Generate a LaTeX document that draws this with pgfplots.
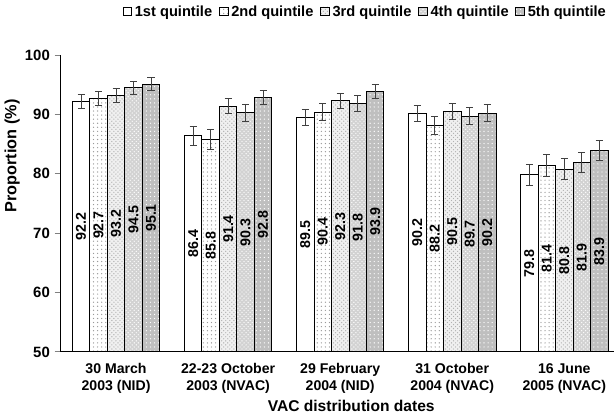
\documentclass[border=0pt]{standalone}
\usepackage{fontspec}
\setmainfont{Liberation Sans Bold}
\usepackage{pgfplots}
\pgfplotsset{compat=1.18}
\usepackage{pgfplotstable}
\usetikzlibrary{patterns}

\pgfplotstableread{
x y e
0 92.2 1.19
1 86.4 1.55
2 89.5 1.36
3 90.2 1.33
4 79.8 1.78
}\qone
\pgfplotstableread{
x y e
0 92.7 1.20
1 85.8 1.65
2 90.4 1.36
3 88.2 1.50
4 81.4 1.78
}\qtwo
\pgfplotstableread{
x y e
0 93.2 1.16
1 91.4 1.27
2 92.3 1.24
3 90.5 1.33
4 80.8 1.78
}\qthree
\pgfplotstableread{
x y e
0 94.5 1.10
1 90.3 1.45
2 91.8 1.36
3 89.7 1.44
4 81.9 1.73
}\qfour
\pgfplotstableread{
x y e
0 95.1 1.10
1 92.8 1.20
2 93.9 1.16
3 90.2 1.39
4 83.9 1.73
}\qfive

\begin{document}
\begin{tikzpicture}
\begin{axis}[
  x=82.65pt, y=4.38pt,
  xmin=-0.5, xmax=4.44, ymin=50, ymax=100,
  axis x line*=bottom, axis y line*=left,
  axis line style={line width=0.6pt},
  ybar=0pt, bar width=0.156,
  xtick={0,1,2,3,4},
  xticklabels={{30 March\\2003 (NID)},{22-23 October\\2003 (NVAC)},{29 February\\2004 (NID)},{31 October\\2004 (NVAC)},{16 June\\2005 (NVAC)}},
  xtick style={draw=none},
  ytick={50,60,70,80,90,100},
  tick align=outside,
  major tick length=4pt,
  ytick style={line width=0.6pt},
  /pgf/number format/assume math mode=true,
  yticklabel style={font=\fontsize{11}{13}\selectfont},
  xticklabel style={font=\fontsize{10.4}{12.5}\selectfont, align=center, yshift=-1pt},
  ylabel={Proportion (\%)},
  xlabel={VAC distribution dates},
  ylabel style={font=\fontsize{12}{14}\selectfont, at={(ticklabel cs:0.66)}, yshift=-3pt},
  xlabel style={font=\fontsize{11.5}{13}\selectfont, at={(ticklabel cs:0.526)}, yshift=2pt},
  legend columns=5,
  legend style={at={(1,1)}, anchor=south east, xshift=-0.5pt, yshift=23pt, draw=none,
    font=\fontsize{10.8}{12}\selectfont,
    /tikz/every even column/.append style={column sep=3pt}},
  legend image code/.code={\draw[#1] (0pt,-3pt) rectangle (6.5pt,3.5pt);},
  every axis plot/.append style={draw=black, line width=0.6pt},
  error bars/y dir=both, error bars/y explicit,
  error bars/error bar style={black!75, line width=0.6pt},
  error bars/error mark options={rotate=90, mark size=2.6pt, black!75, line width=0.6pt},
  nodes near coords,
  visualization depends on={y \as \rawy},
  every node near coord/.append style={font=\fontsize{10.5}{12}\selectfont, yshift={-(\rawy-50)*2.19pt}, rotate=90, anchor=center, black},
]
\addplot[fill=white] table[x=x, y=y, y error=e] {\qone};
\addplot[fill=white, postaction={pattern=dots, pattern color=gray!80}] table[x=x, y=y, y error=e] {\qtwo};
\addplot[fill=gray!12, postaction={pattern=crosshatch dots, pattern color=gray!60}] table[x=x, y=y, y error=e] {\qthree};
\addplot[fill=gray!35, postaction={pattern=crosshatch dots, pattern color=white}] table[x=x, y=y, y error=e] {\qfour};
\addplot[fill=gray!50, postaction={pattern=dots, pattern color=white}] table[x=x, y=y, y error=e] {\qfive};
\legend{1st quintile, 2nd quintile, 3rd quintile, 4th quintile, 5th quintile}
\end{axis}
\end{tikzpicture}
\end{document}
